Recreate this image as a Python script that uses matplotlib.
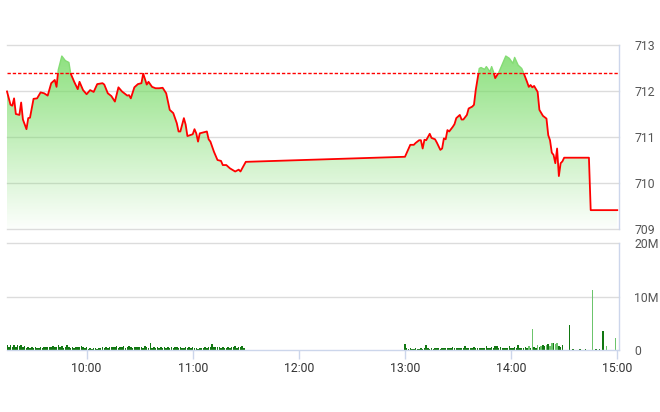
import numpy as np
import matplotlib
matplotlib.use("Agg")
import matplotlib.pyplot as plt
from matplotlib.patches import Rectangle

plt.rcParams['font.family'] = ['Liberation Sans Narrow', 'Roboto', 'DejaVu Sans']

# ---------------- data ----------------
price_times = [
    "9:15", "9:17", "9:18", "9:19", "9:20", "9:22", "9:23", "9:24", "9:26", "9:27",
    "9:28", "9:30", "9:32", "9:34", "9:36", "9:38", "9:40", "9:42", "9:43", "9:44",
    "9:46", "9:48", "9:50", "9:51", "9:53", "9:55", "9:56", "9:58", "10:00", "10:02",
    "10:04", "10:06", "10:09", "10:10", "10:12", "10:14", "10:16", "10:18", "10:20", "10:23",
    "10:24", "10:25", "10:27", "10:29", "10:31", "10:32", "10:34", "10:35", "10:37", "10:39",
    "10:41", "10:43", "10:45", "10:47", "10:49", "10:51", "10:52", "10:53", "10:55", "10:56",
    "10:57", "11:00", "11:01", "11:02", "11:03", "11:04", "11:06", "11:08", "11:09", "11:10",
    "11:12", "11:14", "11:16", "11:17", "11:19", "11:21", "11:24", "11:26", "11:27", "11:30",
    "13:00", "13:03", "13:05", "13:06", "13:08", "13:09", "13:10", "13:11", "13:12", "13:14",
    "13:15", "13:17", "13:18", "13:20", "13:21", "13:22", "13:23", "13:24", "13:25", "13:26",
    "13:27", "13:28", "13:29", "13:31", "13:32", "13:33", "13:35", "13:36", "13:38", "13:39",
    "13:40", "13:42", "13:43", "13:45", "13:46", "13:48", "13:49", "13:50", "13:51", "13:53",
    "13:54", "13:56", "13:57", "13:59", "14:01", "14:02", "14:04", "14:06", "14:07", "14:09",
    "14:10", "14:11", "14:12", "14:13", "14:15", "14:16", "14:18", "14:19", "14:20", "14:21",
    "14:22", "14:23", "14:24", "14:25", "14:26", "14:27", "14:28", "14:29", "14:30", "14:44",
    "14:45", "15:00",
]
price_values = [
    711.99, 711.70, 711.68, 711.84, 711.50, 711.48, 711.75, 711.38, 711.17, 711.41,
    711.42, 711.83, 711.84, 711.97, 711.95, 711.90, 712.17, 712.24, 712.09, 712.46,
    712.76, 712.66, 712.62, 712.38, 712.20, 712.04, 712.20, 712.02, 711.93, 712.02,
    711.98, 712.15, 712.17, 712.14, 711.95, 711.89, 711.77, 712.08, 711.99, 711.90,
    711.91, 711.84, 712.08, 712.15, 712.17, 712.38, 712.14, 712.20, 712.09, 712.06,
    712.06, 712.07, 711.95, 711.59, 711.52, 711.30, 711.12, 711.12, 711.41, 711.27,
    711.02, 711.06, 711.17, 711.08, 710.90, 711.08, 711.10, 711.12, 710.95, 710.90,
    710.68, 710.50, 710.48, 710.39, 710.39, 710.32, 710.25, 710.29, 710.25, 710.46,
    710.57, 710.83, 710.83, 710.87, 710.93, 710.93, 710.75, 710.94, 710.93, 711.07,
    710.98, 710.95, 710.88, 710.72, 710.75, 710.97, 710.95, 711.15, 711.12, 711.17,
    711.22, 711.28, 711.41, 711.48, 711.38, 711.38, 711.48, 711.62, 711.66, 711.70,
    712.02, 712.49, 712.51, 712.47, 712.53, 712.42, 712.53, 712.42, 712.28, 712.40,
    712.49, 712.67, 712.76, 712.71, 712.60, 712.73, 712.56, 712.49, 712.40, 712.20,
    712.09, 712.13, 712.08, 712.11, 711.98, 711.59, 711.46, 711.43, 711.40, 711.04,
    710.93, 710.66, 710.61, 710.43, 710.75, 710.15, 710.43, 710.47, 710.55, 710.55,
    709.41, 709.41,
]
ref_price = 712.40

# per-minute volume (millions), morning 9:15-11:29
vol_morning_start = "9:15"
vol_morning = [
    0.9, 0.5, 1.0, 0.6, 1.0, 0.5, 0.9, 0.7, 1.0, 0.6, 0.7, 0.3, 0.5, 0.3, 0.5,
    0.3, 0.5, 0.3, 0.3, 0.5, 0.3, 0.6, 0.5, 0.6, 0.5, 0.6, 0.7, 0.5, 0.6, 0.9,
    0.5, 0.7, 0.3, 0.5, 0.9, 0.5, 0.3, 0.5, 0.3, 0.6, 0.5, 0.6, 0.7, 0.5, 0.3,
    0.6, 0.2, 0.3, 0.2, 0.3, 0.3, 0.2, 0.3, 0.3, 0.5, 0.3, 0.5, 0.3, 0.6, 0.5,
    0.6, 0.5, 0.7, 0.3, 0.6, 0.5, 0.7, 0.3, 0.6, 0.7, 0.5, 0.3, 0.6, 0.5, 0.5,
    0.6, 0.5, 0.3, 0.7, 0.5, 0.3, 1.3, 0.3, 0.5, 0.3, 0.5, 0.3, 0.5, 0.3, 0.5,
    0.3, 0.6, 0.3, 0.5, 0.3, 0.6, 0.5, 0.3, 0.5, 0.3, 0.3, 0.5, 0.3, 0.5, 0.3,
    0.5, 0.3, 0.3, 0.2, 0.3, 0.3, 0.3, 0.5, 0.3, 0.5, 0.6, 1.1, 0.5, 0.6, 0.5,
    0.5, 0.3, 0.6, 0.3, 0.3, 0.5, 0.3, 0.6, 0.5, 0.7, 0.3, 0.6, 0.5, 0.7, 0.3,
]
# per-minute volume (millions), afternoon 13:00-14:29
vol_afternoon_start = "13:00"
vol_afternoon = [
    1.2, 0.3, 0.2, 0.3, 0.2, 0.2, 0.3, 0.2, 0.2, 0.3, 0.2, 0.3, 0.9, 0.3, 0.2,
    0.3, 0.2, 0.3, 0.4, 0.3, 0.2, 0.3, 0.4, 0.3, 0.3, 0.4, 0.3, 0.6, 0.3, 0.4,
    0.3, 0.4, 0.3, 0.4, 0.7, 0.3, 0.4, 0.3, 0.4, 0.6, 0.3, 0.4, 0.3, 0.4, 0.3,
    0.4, 0.8, 0.4, 0.3, 0.6, 0.4, 0.7, 0.8, 0.4, 0.6, 0.3, 0.4, 0.3, 0.4, 0.7,
    0.4, 0.3, 0.6, 0.3, 0.9, 0.4, 0.3, 0.4, 0.6, 0.4, 0.7, 0.4, 3.9, 0.6, 0.4,
    0.9, 0.6, 0.8, 1.0, 0.7, 0.9, 1.1, 0.8, 1.3, 1.4, 1.2, 1.3, 0.8, 0.6, 0.9,
]
vol_afternoon_up = [
    1, 1, 1, 1, 1, 1, 1, 1, 1, 1, 1, 1, 1, 1, 1,
    1, 1, 1, 1, 1, 1, 1, 1, 1, 1, 1, 1, 1, 1, 1,
    1, 1, 1, 1, 1, 1, 1, 1, 1, 1, 1, 1, 1, 1, 1,
    1, 1, 1, 1, 1, 1, 1, 1, 1, 1, 1, 1, 1, 1, 1,
    1, 1, 1, 1, 1, 1, 1, 1, 1, 1, 0, 1, 0, 1, 1,
    0, 1, 0, 1, 1, 0, 1, 0, 0, 1, 0, 0, 1, 1, 1,
]
# late-session trades
vol_late_times = ["14:33", "14:35", "14:39", "14:42", "14:46", "14:48", "14:50", "14:52", "14:54", "14:59"]
vol_late = [4.6, 0.15, 0.1, 0.1, 11.3, 0.1, 0.1, 3.5, 0.8, 2.3]
vol_late_up = [1, 1, 1, 1, 0, 1, 1, 1, 0, 0]

price_ticks = [709, 710, 711, 712, 713]
vol_ticks = [0, 10, 20]
vol_tick_labels = ["0", "10M", "20M"]
time_ticks = ["10:00", "11:00", "12:00", "13:00", "14:00", "15:00"]


def tm(s):
    h, m = s.split(":")
    return int(h) * 60 + int(m)


# ---------------- figure ----------------
W, H = 660, 412
fig = plt.figure(figsize=(W / 100, H / 100), dpi=100)
L, R = 7, 619
ax1 = fig.add_axes([L / W, 1 - 229 / H, (R - L) / W, (229 - 45) / H])
ax2 = fig.add_axes([L / W, 1 - 350 / H, (R - L) / W, (350 - 243) / H])

xmin, xmax = tm("9:15"), tm("15:01")
px = np.array([tm(t) for t in price_times], dtype=float)
py = np.array(price_values)

grid_c = "#dcdcdc"
axis_c = "#ccd6eb"
for ax in (ax1, ax2):
    ax.set_xlim(xmin, xmax)
    for s in ("top", "left", "bottom"):
        ax.spines[s].set_visible(False)
    ax.spines["right"].set_color(axis_c)
    ax.spines["right"].set_linewidth(1)
    ax.set_facecolor("none")

# ---- price panel ----
ax1.set_ylim(709, 713)
for v in price_ticks:
    ax1.axhline(v, color=grid_c, lw=1, zorder=0, clip_on=False)

poly = ax1.fill_between(px, py, 709, facecolor="none", edgecolor="none")
n = 256
alpha = np.linspace(0.88, 0.02, n)
grad = np.zeros((n, 1, 4))
grad[:, 0, 0] = 0.47
grad[:, 0, 1] = 0.86
grad[:, 0, 2] = 0.40
grad[:, 0, 3] = alpha
im = ax1.imshow(grad, extent=[xmin, xmax, 709, 713], aspect="auto",
                origin="upper", zorder=1, interpolation="bilinear")
im.set_clip_path(poly.get_paths()[0], transform=ax1.transData)

ax1.axhline(ref_price, color="#ff0000", lw=1.0, ls=(0, (2.4, 1.4)), zorder=3)

below = Rectangle((xmin - 10, 700), xmax - xmin + 20, ref_price - 700,
                  transform=ax1.transData)
above = Rectangle((xmin - 10, ref_price), xmax - xmin + 20, 20,
                  transform=ax1.transData)
l1, = ax1.plot(px, py, color="#ff0000", lw=1.3, zorder=4, solid_joinstyle="round")
l1.set_clip_path(below)
l2, = ax1.plot(px, py, color="#84dc74", lw=1.0, zorder=4)
l2.set_clip_path(above)

ax1.yaxis.tick_right()
ax1.set_yticks(price_ticks)
ax1.set_yticklabels([str(v) for v in price_ticks])
ax1.tick_params(axis="y", length=0, pad=11, labelsize=8.8, labelcolor="#555555")
ax1.set_xticks([])

# ---- volume panel ----
ax2.set_ylim(0, 20)
for v in vol_ticks[1:]:
    ax2.axhline(v, color=grid_c, lw=1, zorder=0, clip_on=False)
ax2.spines["bottom"].set_visible(True)
ax2.spines["bottom"].set_color(axis_c)
ax2.spines["bottom"].set_linewidth(1)

dark = "#117711"
light = "#6cc46c"
bw = 0.85
vm_x = tm(vol_morning_start) + np.arange(len(vol_morning))
ax2.bar(vm_x, vol_morning, width=bw, color=dark, linewidth=0, zorder=2)
va_x = tm(vol_afternoon_start) + np.arange(len(vol_afternoon))
ax2.bar(va_x, vol_afternoon, width=bw,
        color=[dark if u else light for u in vol_afternoon_up], linewidth=0, zorder=2)
vl_x = [tm(t) for t in vol_late_times]
ax2.bar(vl_x, vol_late, width=bw,
        color=[dark if u else light for u in vol_late_up], linewidth=0, zorder=2)

ax2.yaxis.tick_right()
ax2.set_yticks(vol_ticks)
ax2.set_yticklabels(vol_tick_labels)
ax2.tick_params(axis="y", length=0, pad=11, labelsize=8.8, labelcolor="#555555")
ax2.set_xticks([tm(t) for t in time_ticks])
ax2.set_xticklabels(time_ticks)
ax2.tick_params(axis="x", length=6.5, width=1, color=axis_c, pad=2.5,
                labelsize=8.8, labelcolor="#333333")

fig.savefig("out.png", dpi=100, facecolor="white")
